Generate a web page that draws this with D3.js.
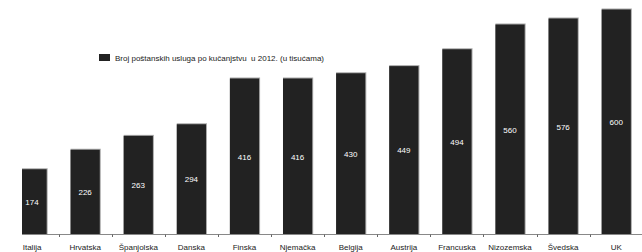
<!DOCTYPE html>
<html>
<head>
<meta charset="utf-8">
<script src="https://cdn.jsdelivr.net/npm/d3@7"></script>
<style>
  body { margin: 0; background: #fff; }
  svg { display: block; font-family: "Liberation Sans", Arial, sans-serif; }
</style>
</head>
<body>
<div id="chart"></div>
<script>
// data
const countries = ["Italija", "Hrvatska", "Španjolska", "Danska", "Finska", "Njemačka",
                   "Belgija", "Austrija", "Francuska", "Nizozemska", "Švedska", "UK"];
const values = [174, 226, 263, 294, 416, 416, 430, 449, 494, 560, 576, 600];
const legendLabel = "Broj poštanskih usluga po kučanjstvu  u 2012. (u tisućama)";

const W = 642, H = 252;
const clipLeft = 22;
const axisY = 234.5, topY = 9.5;

let svg = d3.select("#chart")
  .append("svg")
    .attr("width", W)
    .attr("height", H);

svg.append("defs").append("clipPath")
    .attr("id", "plotClip")
  .append("rect")
    .attr("x", clipLeft)
    .attr("y", 0)
    .attr("width", W - clipLeft)
    .attr("height", H);

let x = d3.scaleBand()
    .domain(countries)
    .range([5.5, 642.8])
    .paddingInner(0.45)
    .paddingOuter(0.225);

let y = d3.scaleLinear()
    .domain([0, 600])
    .range([axisY, topY]);

const plot = svg.append("g").attr("clip-path", "url(#plotClip)");

// bars: gray edge (top + right) behind dark fill
const bars = plot.selectAll(".bar")
  .data(values)
  .enter().append("g")
    .attr("class", "bar");

bars.append("rect")
    .attr("x", (d, i) => x(countries[i]))
    .attr("y", d => y(d) - 1)
    .attr("width", x.bandwidth() + 1)
    .attr("height", d => axisY - y(d) + 1)
    .attr("fill", "#a8a8a8");

bars.append("rect")
    .attr("x", (d, i) => x(countries[i]))
    .attr("y", d => y(d))
    .attr("width", x.bandwidth())
    .attr("height", d => axisY - y(d))
    .attr("fill", "#222222");

// axis line + ticks between categories
const step = x.step();
const start = x.range()[0];
plot.append("line")
    .attr("x1", clipLeft).attr("x2", W)
    .attr("y1", axisY).attr("y2", axisY)
    .attr("stroke", "#888")
    .attr("stroke-width", 1);

plot.selectAll(".tick")
  .data(d3.range(1, countries.length))
  .enter().append("line")
    .attr("x1", d => Math.round(start + d * step) + 0.5)
    .attr("x2", d => Math.round(start + d * step) + 0.5)
    .attr("y1", axisY)
    .attr("y2", axisY + 2.5)
    .attr("stroke", "#666");

// value labels
svg.selectAll(".val")
  .data(values)
  .enter().append("text")
    .attr("x", (d, i) => x(countries[i]) + x.bandwidth() / 2)
    .attr("y", d => (y(d) + axisY) / 2 + 3)
    .attr("text-anchor", "middle")
    .attr("fill", "#fff")
    .style("font-size", "8px")
    .text(d => d);

// category labels
svg.selectAll(".cat")
  .data(countries)
  .enter().append("text")
    .attr("x", d => x(d) + x.bandwidth() / 2)
    .attr("y", 249.5)
    .attr("text-anchor", "middle")
    .attr("fill", "#222")
    .style("font-size", "8px")
    .text(d => d);

// legend
svg.append("rect")
    .attr("x", 99).attr("y", 54)
    .attr("width", 11).attr("height", 7)
    .attr("fill", "#222");
svg.append("text")
    .attr("x", 115).attr("y", 60.5)
    .attr("fill", "#222")
    .style("font-size", "8px")
    .style("white-space", "pre")
    .attr("xml:space", "preserve")
    .text(legendLabel);
</script>
</body>
</html>
